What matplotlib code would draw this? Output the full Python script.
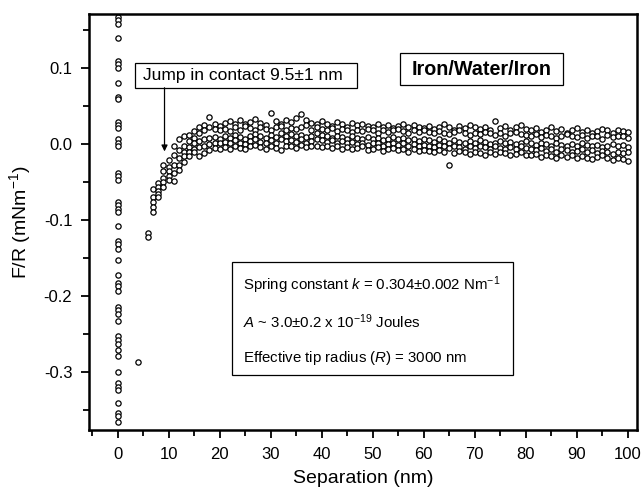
import numpy as np
import matplotlib
matplotlib.use("Agg")
import matplotlib.pyplot as plt
from matplotlib.patches import Rectangle

plt.rcParams['font.family'] = ['Liberation Sans', 'DejaVu Sans']
plt.rcParams['mathtext.fontset'] = 'custom'
plt.rcParams['mathtext.rm'] = 'Liberation Sans'
plt.rcParams['mathtext.it'] = 'Liberation Sans:italic'

# ---- data (force in mN/m, separation in nm) ----
contact_x = 0.0
contact_y = [0.167, 0.163, 0.158, 0.140, 0.109, 0.105, 0.100, 0.080, 0.062, 0.059,
             0.029, 0.025, 0.021, 0.006, 0.001, -0.003, -0.038, -0.042, -0.047,
             -0.076, -0.080, -0.086, -0.090, -0.108, -0.128, -0.132, -0.138, -0.153,
             -0.172, -0.183, -0.187, -0.193, -0.214, -0.218, -0.223, -0.233, -0.253,
             -0.258, -0.263, -0.271, -0.279, -0.300, -0.314, -0.319, -0.324, -0.341,
             -0.354, -0.358, -0.366]

jump_x = [4.0, 6.0, 6.0]
jump_y = [-0.286, -0.117, -0.122]

sep = list(range(7, 101))  # 7 ... 100 nm

run_u1 = [-59, -51, -27, -21, -3, 6, 10, 12, 17, 23, 25, 35, 26, 24,
          28, 30, 26, 31, 27, 29, 33, 28, 25, 41, 30, 27, 32, 29, 34, 40, 31, 28, 26, 30,
          27, 24, 29, 26, 23, 28, 25, 27, 24, 22, 26, 23, 25, 21, 24, 27, 22, 25, 23, 21,
          24, 20, 23, 26, 22, 19, 24, 21, 25, 22, 20, 23, 19, 30, 21, 24, 18, 22, 25, 20,
          18, 21, 16, 19, 22, 17, 20, 15, 18, 21, 16, 19, 14, 17, 20, 18, 15, 19, 17, 16]
run_u2 = [-69, -56, -36, -30, -15, -8, -2, 4, 8, 14, 18, 22, 20, 18,
          20, 17, 22, 19, 24, 21, 18, 23, 20, 19, 22, 24, 18, 21, 20, 23, 25, 19, 22, 20,
          19, 21, 17, 20, 18, 16, 19, 17, 20, 18, 15, 19, 16, 18, 20, 17, 15, 19, 16, 18,
          16, 14, 17, 15, 13, 16, 18, 14, 12, 15, 13, 16, 14, 12, 15, 11, 14, 16, 13, 12,
          11, 13, 9, 12, 10, 8, 11, 13, 10, 9, 12, 8, 11, 10, 7, 12, 9, 11, 10, 8]
run_l1 = [-76, -62, -45, -36, -27, -18, -10, -4, 2, 4, 6, 8, 9, 7,
          10, 8, 12, 9, 6, 11, 13, 10, 8, 12, 9, 14, 11, 13, 10, 12, 9, 11, 14, 12,
          10, 8, 11, 9, 7, 10, 8, 6, 9, 7, 8, 5, 7, 9, 6, 8, 5, 7, 4, 6,
          5, 3, 6, 4, 2, 5, 3, 1, 4, 2, 5, 3, 0, 2, 4, 1, 3, 0, 2, 4,
          1, -1, 2, 0, -2, 1, -1, -3, 0, -2, 1, -1, -3, -1, -4, -2, 0, -3, -1, -4]
run_l2 = [-83, -66, -50, -42, -38, -27, -16, -11, -6, -4, -2, 0, 2, 1,
          3, 1, 5, 2, 0, 4, 6, 3, 1, 5, 2, 7, 4, 5, 3, 6, 2, 4, 6, 5,
          3, 5, 2, 4, 1, 3, 0, 2, -1, 1, 2, -2, 0, 1, -1, 2, -2, 0, -3, -1,
          -2, -4, -1, -3, -5, -2, -4, -6, -3, -5, -2, -4, -6, -3, -5, -7, -4, -6, -3, -5,
          -6, -8, -5, -9, -7, -10, -6, -8, -11, -9, -7, -10, -8, -12, -9, -11, -13, -10, -12, -11]
run_l3 = [-89, -69, -56, -47, -49, -34, -23, -16, -11, -16, -12, -8, -5, -6,
          -4, -6, -2, -5, -7, -3, -1, -4, -6, -2, -5, -8, -3, -2, -5, -1, -4, -3, -2, -4,
          -3, -5, -2, -6, -4, -7, -5, -3, -8, -6, -4, -9, -7, -5, -8, -6, -10, -7, -9, -8,
          -9, -11, -8, -10, -28, -12, -9, -11, -13, -10, -12, -14, -11, -13, -10, -12, -15, -13, -11, -14,
          -15, -13, -17, -14, -16, -18, -15, -17, -14, -19, -16, -18, -20, -17, -15, -19, -21, -18, -20, -22]
runs_milli = [run_u1, run_u2, run_l1, run_l2, run_l3]

x_ticks = [0, 10, 20, 30, 40, 50, 60, 70, 80, 90, 100]
y_ticks = [-0.3, -0.2, -0.1, 0.0, 0.1]
y_tick_labels = ['-0.3', '-0.2', '-0.1', '0.0', '0.1']

# ---- figure ----
fig = plt.figure(figsize=(6.43, 4.93), dpi=100)
ax = fig.add_axes([89/643, 1-430/493, 548/643, 416/493])

mk = dict(marker='o', linestyle='none', markersize=3.8, markerfacecolor='white',
          markeredgecolor='black', markeredgewidth=0.9, clip_on=True)

ax.plot([contact_x]*len(contact_y), contact_y, **mk)
ax.plot(jump_x, jump_y, **mk)
for r in runs_milli:
    ax.plot(sep, np.array(r)/1000.0, **mk)

ax.set_xlim(-5.6, 101.8)
ax.set_ylim(-0.376, 0.171)

ax.set_xticks(x_ticks)
ax.set_xticks(np.arange(-5, 101, 5), minor=True)
ax.set_yticks(y_ticks)
ax.set_yticklabels(y_tick_labels)
ax.set_yticks(np.arange(-0.35, 0.17, 0.05), minor=True)

ax.tick_params(which='both', direction='out', top=False, right=False, width=1.3,
               labelsize=12, pad=6)
ax.tick_params(which='major', length=6)
ax.tick_params(which='minor', length=4)
for s in ax.spines.values():
    s.set_linewidth(1.8)

ax.set_xlabel('Separation (nm)', fontsize=14, labelpad=6)
ax.set_ylabel('F/R (mNm$^{-1}$)', fontsize=14, labelpad=8)

# Jump annotation
ax.add_patch(Rectangle((0.084, 0.822), 0.405, 0.060, transform=ax.transAxes,
                       facecolor='white', edgecolor='black', linewidth=0.9, zorder=5))
ax.text(0.099, 0.852, 'Jump in contact 9.5\u00b11 nm', transform=ax.transAxes,
        fontsize=12.5, va='center', ha='left', zorder=6)
ax.annotate('', xy=(9.2, -0.0097), xytext=(9.2, 0.074),
            arrowprops=dict(arrowstyle='-|>', color='black', lw=0.9,
                            mutation_scale=9, shrinkA=0, shrinkB=0), zorder=6)

# Iron/Water/Iron label
ax.add_patch(Rectangle((0.5675, 0.829), 0.2975, 0.077, transform=ax.transAxes,
                       facecolor='white', edgecolor='black', linewidth=0.9, zorder=5))
ax.text(0.716, 0.8675, 'Iron/Water/Iron', transform=ax.transAxes, fontsize=14.2,
        fontweight='bold', va='center', ha='center', zorder=6)

# Parameters box
ax.add_patch(Rectangle((0.261, 0.132), 0.513, 0.272, transform=ax.transAxes,
                       facecolor='white', edgecolor='black', linewidth=0.9, zorder=5))
ax.text(0.281, 0.349, 'Spring constant $\\mathit{k}$ = 0.304\u00b10.002 Nm$^{-1}$',
        transform=ax.transAxes, fontsize=10.8, va='center', ha='left', zorder=6)
ax.text(0.281, 0.260, '$\\mathit{A}$ ~ 3.0\u00b10.2 x 10$^{-19}$ Joules',
        transform=ax.transAxes, fontsize=10.8, va='center', ha='left', zorder=6)
ax.text(0.281, 0.173, 'Effective tip radius ($\\mathit{R}$) = 3000 nm',
        transform=ax.transAxes, fontsize=10.8, va='center', ha='left', zorder=6)

fig.savefig('out.png', dpi=100)
